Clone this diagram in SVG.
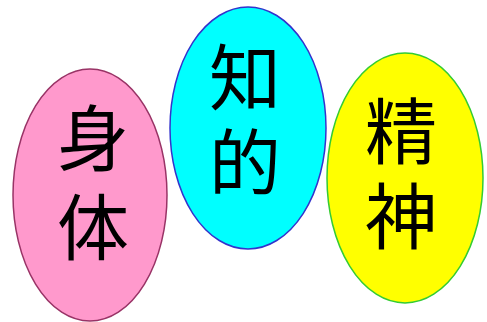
<svg xmlns="http://www.w3.org/2000/svg" width="487" height="322" viewBox="0 0 487 322">
<style>
.lbl{font-family:"Noto Sans CJK JP","Noto Sans CJK SC",sans-serif;font-size:72px;fill:#000;text-anchor:middle}
</style>
<rect width="487" height="322" fill="#fff"/>
<g id="body">
<ellipse cx="90" cy="195" rx="77" ry="126" fill="#ff99cc" stroke="#993366" stroke-width="1.5"/>
<text class="lbl" x="93" y="165">身</text>
<text class="lbl" x="93" y="254">体</text>
</g>
<g id="intellect">
<ellipse cx="248" cy="128" rx="78" ry="121" fill="#00ffff" stroke="#3333cc" stroke-width="1.5"/>
<text class="lbl" x="245" y="104">知</text>
<text class="lbl" x="245" y="189">的</text>
</g>
<g id="spirit">
<ellipse cx="405" cy="178" rx="78" ry="125" fill="#ffff00" stroke="#33cc33" stroke-width="1.5"/>
<text class="lbl" x="401" y="158">精</text>
<text class="lbl" x="401" y="243">神</text>
</g>
<g id="connectors"></g>
</svg>
